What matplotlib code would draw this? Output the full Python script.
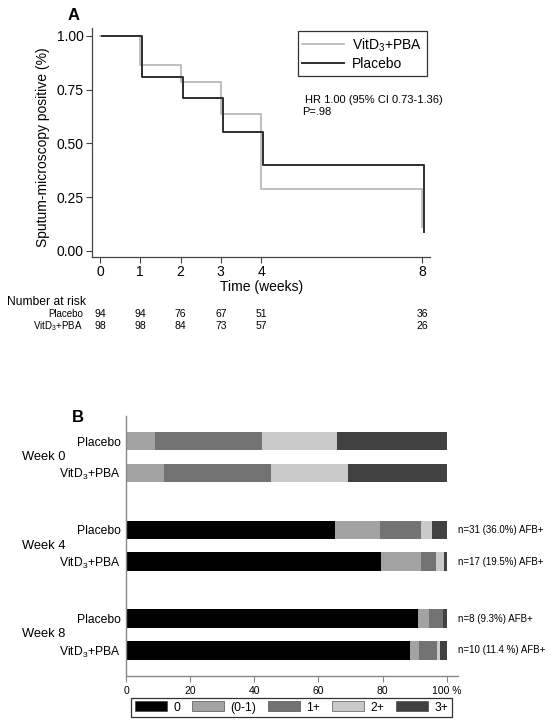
import numpy as np
import matplotlib
matplotlib.use("Agg")
import matplotlib.pyplot as plt
from matplotlib.patches import Patch
from matplotlib.transforms import blended_transform_factory

plt.rcParams['font.family'] = ['Liberation Sans', 'DejaVu Sans']
plt.rcParams['mathtext.fontset'] = 'custom'
plt.rcParams['mathtext.rm'] = 'Liberation Sans'
plt.rcParams['mathtext.it'] = 'Liberation Sans'

VIT = 'VitD$_3$+PBA'

# --- panel A data (Kaplan-Meier) ---
km_weeks = [0, 1, 2, 3, 4, 8]
surv_vit = [1.00, 0.865, 0.785, 0.635, 0.29, 0.11]
surv_pla = [1.00, 0.81, 0.71, 0.555, 0.40, 0.09]
risk_pla = [94, 94, 76, 67, 51, 36]
risk_vit = [98, 98, 84, 73, 57, 26]

# --- panel B data (smear grade %) ---
grades = ['0', '(0-1)', '1+', '2+', '3+']
bar_groups = ['Week 0', 'Week 4', 'Week 8']
bar_arms = ['Placebo', VIT]
pct = {
    ('Week 0', 'Placebo'): [0.0, 9.0, 33.5, 23.2, 34.3],
    ('Week 0', VIT):       [0.0, 12.0, 33.2, 24.0, 30.8],
    ('Week 4', 'Placebo'): [65.3, 13.9, 12.8, 3.5, 4.5],
    ('Week 4', VIT):       [79.4, 12.6, 4.7, 2.3, 1.0],
    ('Week 8', 'Placebo'): [90.9, 3.5, 4.4, 0.0, 1.2],
    ('Week 8', VIT):       [88.6, 2.6, 5.7, 1.0, 2.1],
}
afb_notes = {
    ('Week 4', 'Placebo'): 'n=31 (36.0%) AFB+',
    ('Week 4', VIT): 'n=17 (19.5%) AFB+',
    ('Week 8', 'Placebo'): 'n=8 (9.3%) AFB+',
    ('Week 8', VIT): 'n=10 (11.4 %) AFB+',
}
grade_colors = ['#000000', '#a3a3a3', '#737373', '#c9c9c9', '#414141']

W, H = 554, 728
fig = plt.figure(figsize=(W / 100, H / 100), dpi=100)

def px_axes(x0, y0, x1, y1):
    return fig.add_axes([x0 / W, 1 - y1 / H, (x1 - x0) / W, (y1 - y0) / H])

# ================= Panel A =================
ax = px_axes(92, 28, 430, 257)
ax.step(km_weeks, surv_vit, where='post', color='#b4b4b4', lw=1.2, label=VIT)
ax.step(np.array(km_weeks) + 0.05, surv_pla, where='post', color='#2e2e2e', lw=1.4,
        label='Placebo')
ax.set_xlim(-0.2, 8.2)
ax.set_ylim(-0.028, 1.037)
ax.set_xticks(km_weeks)
ax.set_yticks([0, 0.25, 0.5, 0.75, 1.0])
ax.set_yticklabels(['%.2f' % v for v in [0, 0.25, 0.5, 0.75, 1.0]])
ax.tick_params(labelsize=10, length=4, width=0.8, color='#444444', pad=2)
for s in ['top', 'right']:
    ax.spines[s].set_visible(False)
for s in ['left', 'bottom']:
    ax.spines[s].set_color('#444444')
    ax.spines[s].set_linewidth(0.9)
ax.set_ylabel('Sputum-microscopy positive (%)', fontsize=10)
ax.yaxis.set_label_coords(-0.124, 0.48)
ax.set_xlabel('Time (weeks)', fontsize=10)
ax.xaxis.set_label_coords(0.503, -0.1)
leg = ax.legend(loc='upper right', bbox_to_anchor=(0.99, 0.985), fontsize=10,
                frameon=True, fancybox=False, edgecolor='black', handlelength=3.0,
                borderpad=0.35, labelspacing=0.25, handletextpad=0.55,
                borderaxespad=0)
leg.get_frame().set_linewidth(0.9)
ax.text(0.63, 0.708, 'HR 1.00 (95% CI 0.73-1.36)', transform=ax.transAxes,
        fontsize=8, va='top', ha='left')
ax.text(0.622, 0.655, 'P=.98', transform=ax.transAxes, fontsize=8, va='top', ha='left')
fig.text(74 / W, 1 - 16 / H, 'A', fontsize=12, weight='bold', ha='center', va='center')

# number at risk table
tr = blended_transform_factory(ax.transData, fig.transFigure)
fig.text(7 / W, 1 - 302 / H, 'Number at risk', fontsize=8.7, ha='left', va='center')
for row_y, name, vals in [(314, 'Placebo', risk_pla), (326, VIT, risk_vit)]:
    fig.text(83 / W, 1 - row_y / H, name, fontsize=7, ha='right', va='center')
    for wk, v in zip(km_weeks, vals):
        ax.text(wk, 1 - row_y / H, str(v), transform=tr, fontsize=7.5,
                ha='center', va='center')

# ================= Panel B =================
bx = px_axes(126, 416, 458, 676)
positions = [0, 1, 2.8, 3.8, 5.6, 6.6]
keys = [(g, a) for g in bar_groups for a in bar_arms]
for pos, key in zip(positions, keys):
    left = 0.0
    for val, col in zip(pct[key], grade_colors):
        if val > 0:
            bx.barh(pos, val, left=left, height=0.58, color=col, edgecolor='none')
        left += val
    if key in afb_notes:
        bx.text(1.0, pos, afb_notes[key], transform=blended_transform_factory(
            bx.transAxes, bx.transData), fontsize=7, ha='left', va='center')
bx.set_ylim(7.41, -0.79)
bx.set_xlim(0, 103.5)
bx.set_yticks(positions)
bx.set_yticklabels([a for g, a in keys], fontsize=8.7)
bx.tick_params(axis='y', length=0, pad=4)
bx.set_xticks([0, 20, 40, 60, 80, 100])
bx.set_xticklabels(['0', '20', '40', '60', '80', '100 %'], fontsize=7.5)
bx.tick_params(axis='x', length=4, width=0.8, color='#888888', pad=3)
for s in ['top', 'right']:
    bx.spines[s].set_visible(False)
for s in ['left', 'bottom']:
    bx.spines[s].set_color('#888888')
    bx.spines[s].set_linewidth(1.0)
tw = blended_transform_factory(fig.transFigure, bx.transData)
for i, g in enumerate(bar_groups):
    mid = (positions[2 * i] + positions[2 * i + 1]) / 2
    bx.text(22 / W, mid, g, transform=tw, fontsize=9.3, ha='left', va='center')
fig.text(78 / W, 1 - 417 / H, 'B', fontsize=12, weight='bold', ha='center', va='center')

handles = [Patch(facecolor=c, edgecolor='#333333', linewidth=0.4) for c in grade_colors]
lg = fig.legend(handles, grades, loc='center', ncol=5,
                bbox_to_anchor=(291.5 / W, 1 - 707.5 / H), fontsize=8.7,
                frameon=True, fancybox=False, edgecolor='black', handlelength=2.7,
                handleheight=0.85, handletextpad=0.5, columnspacing=0.95,
                borderpad=0.3)
lg.get_frame().set_linewidth(0.9)

fig.savefig('out.png', dpi=100)
